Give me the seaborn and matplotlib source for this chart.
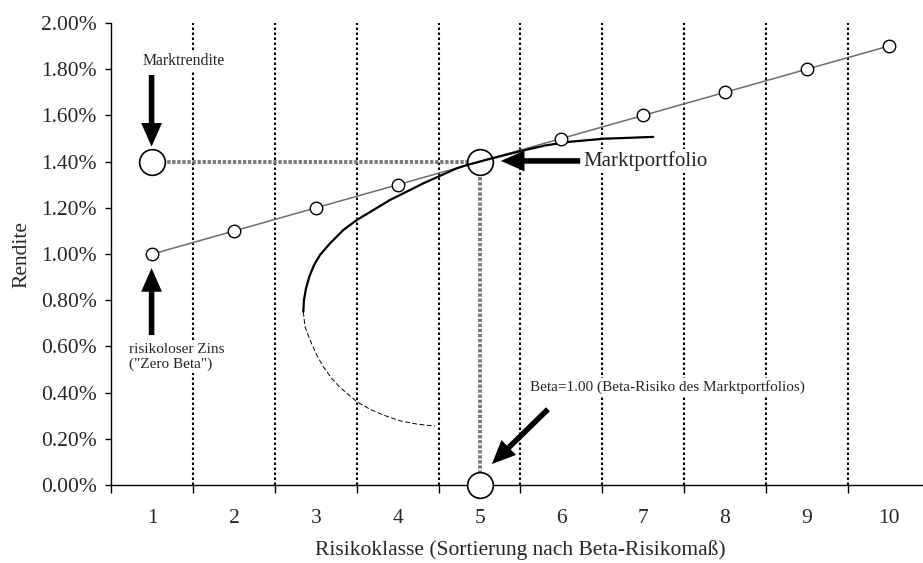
import matplotlib.pyplot as plt
import matplotlib.ticker as mticker
import pandas as pd
import seaborn as sns

# risk classes and the security market line (return in %)
risk_classes = [1, 2, 3, 4, 5, 6, 7, 8, 9, 10]
sml_return = [1.0, 1.1, 1.2, 1.3, 1.4, 1.5, 1.6, 1.7, 1.8, 1.9]

# efficient frontier (x in class units, y in %)
frontier_x = [2.845, 2.853, 2.878, 2.918, 2.976, 3.049, 3.171, 3.334, 3.498,
              3.700, 3.905, 4.109, 4.312, 4.495, 4.720, 4.842, 5.127, 5.494,
              5.800, 6.105, 6.512, 7.123]
frontier_y = [0.750, 0.801, 0.851, 0.902, 0.952, 0.996, 1.046, 1.104, 1.147,
              1.190, 1.234, 1.270, 1.306, 1.335, 1.371, 1.385, 1.412, 1.445,
              1.470, 1.486, 1.499, 1.507]
lower_x = [2.845, 2.866, 2.927, 3.008, 3.089, 3.192, 3.293, 3.498, 3.660,
           3.823, 4.027, 4.231, 4.455]
lower_y = [0.750, 0.685, 0.628, 0.563, 0.512, 0.462, 0.423, 0.361, 0.328,
           0.303, 0.278, 0.264, 0.255]

# market portfolio marks
market_beta = 5
market_return = 1.4
riskfree_class = 1

class_bounds = [0.5, 1.5, 2.5, 3.5, 4.5, 5.5, 6.5, 7.5, 8.5, 9.5, 10.5]
y_ticks = [0.0, 0.2, 0.4, 0.6, 0.8, 1.0, 1.2, 1.4, 1.6, 1.8, 2.0]

sml = pd.DataFrame({"klasse": risk_classes, "rendite": sml_return})
upper = pd.DataFrame({"x": frontier_x, "y": frontier_y})
lower = pd.DataFrame({"x": lower_x, "y": lower_y})

sns.set_style("ticks")
plt.rcParams["font.family"] = ["Liberation Serif", "DejaVu Serif"]

fig = plt.figure(figsize=(9.23, 5.63), dpi=100)
ax = fig.add_axes([0.1208, 0.1385, 0.8862, 0.8206])

# vertical separators between classes
for b in class_bounds[1:-1]:
    ax.plot([b, b], [0, 2.0], color="black", lw=1.5, ls=(0, (1.2, 1.2)), zorder=1)

# gray guides to the market portfolio
guide = dict(color="#7a7a7a", lw=2.8, ls=(0, (0.85, 0.45)), zorder=2)
ax.plot([riskfree_class, market_beta], [market_return, market_return], **guide)
ax.plot([market_beta, market_beta], [market_return, 0], **guide)

# big circles
big = pd.DataFrame({"x": [riskfree_class, market_beta, market_beta],
                    "y": [market_return, market_return, 0.0]})
ax.plot(big["x"], big["y"], ls="none", marker="o", ms=18.5, mfc="white",
        mec="black", mew=1.2, zorder=3, clip_on=False)

# security market line
sns.lineplot(data=sml, x="klasse", y="rendite", ax=ax, color="#6e6e6e",
             lw=1.1, zorder=4, estimator=None)
pts = sml[sml["klasse"] != market_beta]
ax.plot(pts["klasse"], pts["rendite"], ls="none", marker="o", ms=9, mfc="white",
        mec="black", mew=1.0, zorder=5)

# frontier
sns.lineplot(data=upper, x="x", y="y", ax=ax, color="black", lw=1.6,
             sort=False, estimator=None, zorder=4, solid_joinstyle="round")
sns.lineplot(data=lower, x="x", y="y", ax=ax, color="black", lw=0.7,
             sort=False, estimator=None, zorder=4, dashes=False,
             linestyle=(0, (5, 2.5)))

# arrows
arrow = dict(arrowstyle="simple,head_length=1.7,head_width=1.5,tail_width=0.4",
             mutation_scale=10, fc="black", ec="none", shrinkA=0, shrinkB=0)
ax.annotate("", xy=(0.99, 1.465), xytext=(0.99, 1.775), arrowprops=arrow, zorder=6)
ax.annotate("", xy=(0.99, 0.939), xytext=(0.99, 0.649), arrowprops=arrow, zorder=6)
ax.annotate("", xy=(5.26, 1.403), xytext=(6.23, 1.403), arrowprops=arrow, zorder=6)
ax.annotate("", xy=(5.15, 0.091), xytext=(5.836, 0.328), arrowprops=arrow, zorder=6)

box = dict(facecolor="white", edgecolor="none", pad=1.5)
ax.text(0.885, 1.835, "Marktrendite", fontsize=11.3, ha="left", va="center",
        bbox=box, zorder=5)
ax.text(0.714, 0.555, "risikoloser Zins\n(\"Zero Beta\")", fontsize=11,
        ha="left", va="center", linespacing=1.15, bbox=box, zorder=5)
ax.text(6.264, 1.403, "Marktportfolio", fontsize=15, ha="left", va="center",
        bbox=box, zorder=5)
ax.text(5.616, 0.424, "Beta=1.00 (Beta-Risiko des Marktportfolios)", fontsize=11,
        ha="left", va="center", bbox=box, zorder=5)

ax.set_xlim(0.5, 10.5)
ax.set_ylim(0, 2.0)
ax.set_xticks(risk_classes)
ax.set_xticklabels([str(k) for k in risk_classes])
ax.set_xticks(class_bounds, minor=True)
ax.set_yticks(y_ticks)
ax.yaxis.set_major_formatter(mticker.FuncFormatter(lambda v, p: f"{v:.2f}%"))
ax.tick_params(axis="x", which="major", length=0, pad=17, labelsize=15.5)
ax.tick_params(axis="x", which="minor", length=5.5, width=1, direction="out",
               color="black")
ax.tick_params(axis="y", length=4.5, width=1, pad=6, labelsize=15.5, color="black")

ax.set_xlabel("Risikoklasse (Sortierung nach Beta-Risikomaß)", fontsize=15.5,
              labelpad=9)
ax.set_ylabel("Rendite", fontsize=15.5, labelpad=7)

sns.despine(ax=ax)
for s in ["left", "bottom"]:
    ax.spines[s].set_color("black")
    ax.spines[s].set_linewidth(1.0)

fig.savefig("out.png", dpi=100)
plt.close(fig)
